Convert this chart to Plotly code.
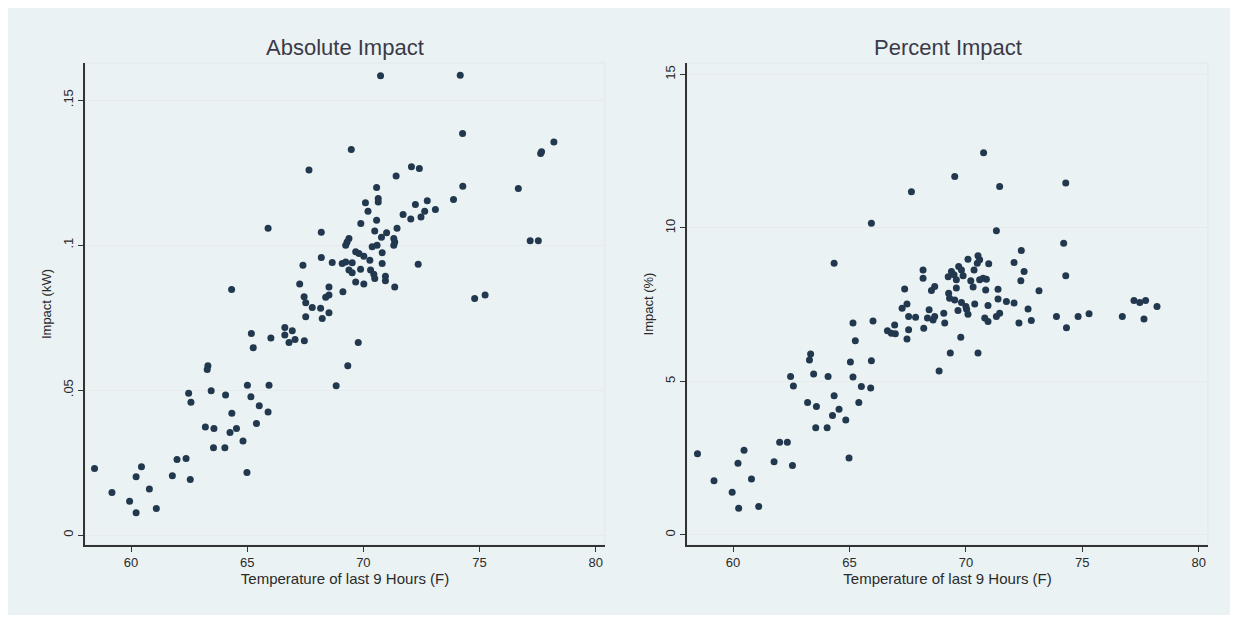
import plotly.graph_objects as go

# ---------------- data ----------------
abs_temp = [58.43, 59.18, 59.94, 60.22, 60.45, 60.22, 60.79, 61.09, 61.78, 61.98,
            62.37, 62.55, 62.48, 62.58, 63.31, 63.28, 63.45, 63.20, 63.57, 64.07,
            64.34, 64.26, 64.54, 63.55, 64.04, 64.82, 64.99, 65.01, 65.16, 65.52,
            65.40, 65.90, 65.94, 65.18, 65.26, 66.02, 66.62, 66.94, 66.62, 66.80,
            67.06, 67.46, 67.52, 68.23, 67.80, 68.16, 68.52, 67.45, 67.52, 68.52,
            68.38, 69.12, 67.26, 68.52, 64.33, 68.83, 69.78, 69.33, 67.40, 68.19,
            68.66, 69.09, 69.24, 69.52, 69.38, 69.52, 69.88, 70.31, 70.45, 70.49,
            70.95, 70.95, 69.67, 70.02, 71.35, 72.36, 69.67, 69.81, 70.02, 70.28,
            70.81, 70.81, 69.38, 69.30, 69.24, 70.59, 70.38, 71.31, 71.35, 71.31,
            70.78, 71.00, 70.49, 71.45, 68.19, 69.89, 70.57, 71.71, 72.04, 72.48,
            70.20, 70.09, 70.64, 70.64, 70.57, 72.24, 72.75, 72.64, 73.10, 73.88,
            71.41, 72.07, 72.41, 67.66, 65.90, 69.48, 70.74, 74.17, 74.27, 74.28,
            76.67, 77.67, 77.63, 78.20, 77.18, 77.53, 74.79, 75.24]
abs_impact = [.0230, .0147, .0117, .0201, .0236, .0077, .0159, .0092, .0205, .0261,
              .0264, .0192, .0489, .0458, .0584, .0571, .0498, .0373, .0368, .0483,
              .0420, .0354, .0368, .0301, .0301, .0325, .0216, .0517, .0477, .0446,
              .0385, .0425, .0517, .0695, .0646, .0680, .0716, .0705, .0690, .0664,
              .0675, .0670, .0753, .0747, .0785, .0782, .0767, .0822, .0801, .0828,
              .0820, .0839, .0866, .0856, .0847, .0515, .0664, .0584, .0931, .0957,
              .0940, .0937, .0942, .0939, .0914, .0905, .0917, .0914, .0900, .0885,
              .0893, .0877, .0873, .0866, .0856, .0934, .0977, .0971, .0962, .0948,
              .0937, .0974, .1023, .1011, .1000, .1000, .0994, .1023, .1011, .1000,
              .1027, .1043, .1049, .1058, .1044, .1075, .1086, .1106, .1090, .1097,
              .1117, .1146, .1161, .1149, .1199, .1140, .1153, .1117, .1123, .1157,
              .1238, .1270, .1264, .1259, .1058, .1330, .1584, .1586, .1385, .1203,
              .1195, .1322, .1316, .1356, .1015, .1015, .0816, .0828]

pct_temp = [58.47, 59.18, 59.96, 60.21, 60.47, 60.24, 60.79, 61.10, 61.76, 62.00,
            62.33, 62.55, 62.47, 62.59, 63.33, 63.28, 63.46, 63.20, 63.58, 64.08,
            64.34, 64.27, 64.55, 63.55, 64.04, 64.84, 64.98, 65.04, 65.15, 65.51,
            65.91, 65.40, 65.94, 65.15, 65.25, 66.01, 66.63, 66.80, 66.94, 66.97,
            67.47, 67.26, 67.47, 67.54, 67.84, 67.54, 68.19, 68.42, 68.35, 68.59,
            68.66, 68.85, 65.94, 71.31, 72.38, 72.07, 72.50, 72.36, 73.14, 72.67,
            72.81, 72.28, 73.89, 70.52, 70.59, 70.49, 70.09, 70.98, 69.69, 69.81,
            69.38, 69.49, 69.24, 68.16, 68.16, 69.88, 70.35, 69.59, 70.21, 70.31,
            70.59, 70.74, 70.88, 69.59, 70.85, 71.38, 68.66, 68.52, 69.26, 69.30,
            69.52, 69.81, 70.00, 70.03, 70.38, 69.66, 70.09, 70.95, 71.38, 71.74,
            72.07, 71.45, 71.31, 70.81, 70.95, 67.37, 69.05, 69.09, 69.78, 69.33,
            70.52, 70.76, 69.52, 71.45, 74.29, 74.20, 74.29, 77.22, 77.47, 77.72,
            78.21, 74.32, 74.82, 75.29, 76.72, 77.65, 67.66, 64.34]
pct_impact = [2.64, 1.76, 1.39, 2.33, 2.76, 0.87, 1.82, 0.92, 2.38, 3.02,
              3.02, 2.26, 5.16, 4.85, 5.89, 5.70, 5.24, 4.31, 4.18, 5.16,
              4.53, 3.89, 4.09, 3.49, 3.49, 3.74, 2.50, 5.63, 5.14, 4.83,
              4.78, 4.31, 5.67, 6.90, 6.32, 6.97, 6.65, 6.57, 6.84, 6.55,
              6.38, 7.38, 7.52, 7.11, 7.09, 6.68, 6.73, 7.33, 7.06, 7.00,
              7.11, 5.34, 10.15, 9.91, 9.26, 8.87, 8.58, 8.28, 7.95, 7.36,
              6.98, 6.90, 7.11, 9.09, 8.96, 8.85, 8.98, 8.83, 8.74, 8.63,
              8.58, 8.47, 8.41, 8.63, 8.36, 8.44, 8.63, 8.31, 8.28, 8.07,
              8.31, 8.36, 8.33, 8.04, 7.98, 8.00, 8.09, 7.96, 7.87, 7.71,
              7.65, 7.57, 7.44, 7.35, 7.52, 7.31, 7.19, 7.47, 7.68, 7.60,
              7.55, 7.22, 7.11, 7.06, 6.95, 8.01, 7.22, 6.90, 6.44, 5.92,
              5.92, 12.45, 11.67, 11.35, 11.46, 9.50, 8.44, 7.63, 7.57, 7.63,
              7.44, 6.75, 7.11, 7.20, 7.11, 7.03, 11.18, 8.85]

x_ticks = [60, 65, 70, 75, 80]
abs_ticks = [0, 0.05, 0.10, 0.15]
abs_tick_text = ["0", ".05", ".1", ".15"]
pct_ticks = [0, 5, 10, 15]
pct_tick_text = ["0", "5", "10", "15"]

panel_titles = ["Absolute Impact", "Percent Impact"]
x_title = "Temperature of last 9 Hours (F)"
y_titles = ["Impact (kW)", "Impact (%)"]

# ---------------- style ----------------
FONT = "Liberation Sans, Arial, sans-serif"
MARK = "#22384e"
BG = "#EAF2F3"
TXT = "#2b2b2b"

fig = go.Figure()
fig.add_trace(go.Scatter(x=abs_temp, y=abs_impact, mode="markers",
                         marker=dict(size=7, color=MARK), xaxis="x", yaxis="y",
                         showlegend=False))
fig.add_trace(go.Scatter(x=pct_temp, y=pct_impact, mode="markers",
                         marker=dict(size=7, color=MARK), xaxis="x2", yaxis="y2",
                         showlegend=False))

W, H = 1238, 619
dom_x1 = [85 / W, 605 / W]
dom_x2 = [687 / W, 1208 / W]
dom_y = [1 - 545 / H, 1 - 63 / H]

common_x = dict(range=[58.02, 80.4], tickvals=x_ticks, showgrid=False, zeroline=False,
                showline=True, linecolor="#333", linewidth=1.5, ticks="outside",
                ticklen=5, tickcolor="#333", tickfont=dict(size=13, color=TXT, family=FONT),
                title=dict(text=x_title, font=dict(size=15, color=TXT, family=FONT), standoff=3),
                automargin=False)
common_y = dict(showgrid=True, gridcolor="#e6ecee", gridwidth=1, zeroline=False,
                showline=True, linecolor="#333", linewidth=1.5, ticks="outside",
                ticklen=5, tickcolor="#333", tickangle=-90,
                tickfont=dict(size=13, color=TXT, family=FONT), automargin=False)

fig.update_layout(
    width=W, height=H,
    margin=dict(l=0, r=0, t=0, b=0),
    paper_bgcolor="white", plot_bgcolor="white",
    font=dict(family=FONT, color=TXT),
    xaxis=dict(domain=dom_x1, anchor="y", **common_x),
    xaxis2=dict(domain=dom_x2, anchor="y2", **common_x),
    yaxis=dict(domain=dom_y, anchor="x", range=[-0.0034, 0.1628], tickvals=abs_ticks,
               ticktext=abs_tick_text,
               title=dict(text=y_titles[0], font=dict(size=13, color=TXT, family=FONT), standoff=6),
               **common_y),
    yaxis2=dict(domain=dom_y, anchor="x2", range=[-0.33, 15.37], tickvals=pct_ticks,
                ticktext=pct_tick_text,
                title=dict(text=y_titles[1], font=dict(size=13, color=TXT, family=FONT), standoff=6),
                **common_y),
    shapes=[
        dict(type="rect", xref="paper", yref="paper", x0=8 / W, x1=1230 / W,
             y0=1 - 615 / H, y1=1 - 8 / H, fillcolor=BG, line=dict(width=0), layer="below"),
        dict(type="rect", xref="x domain", yref="y domain", x0=0, x1=1, y0=0, y1=1,
             line=dict(color="#dfe7ea", width=1), layer="below"),
        dict(type="rect", xref="x2 domain", yref="y2 domain", x0=0, x1=1, y0=0, y1=1,
             line=dict(color="#dfe7ea", width=1), layer="below"),
    ],
    annotations=[
        dict(text=panel_titles[0], x=345 / W, y=1 - 48 / H, xref="paper", yref="paper",
             xanchor="center", yanchor="middle",
             showarrow=False, font=dict(size=22, color="#3a3a48", family=FONT)),
        dict(text=panel_titles[1], x=948 / W, y=1 - 48 / H, xref="paper", yref="paper",
             xanchor="center", yanchor="middle",
             showarrow=False, font=dict(size=22, color="#3a3a48", family=FONT)),
    ],
)

fig.write_html("out.html", config={"displayModeBar": False},
               post_script="document.body.style.margin='0';document.body.style.padding='0';")
